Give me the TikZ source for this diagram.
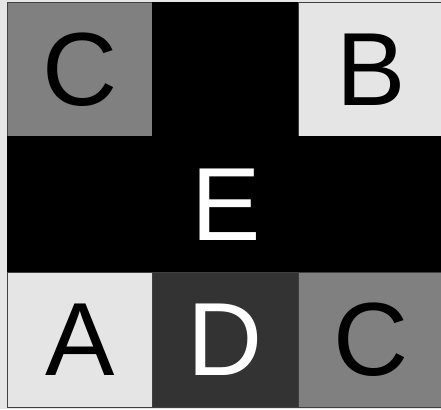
\documentclass[tikz,border=0pt]{standalone}
\usepackage{fontspec}
\setmainfont{Liberation Sans}
\usepackage{tikz}
\usetikzlibrary{positioning}

\begin{document}
\begin{tikzpicture}[
    x=1pt, y=1pt,
    cell/.style={draw=black!75, line width=1pt, inner sep=0pt, outer sep=0pt, minimum width=146pt, minimum height=135pt, font=\fontsize{104}{104}\selectfont},
    light/.style={cell, fill=gray!20, text=black},
    mid/.style={cell, fill=gray, text=black},
    dark/.style={cell, fill=black!80, text=white},
    full/.style={cell, draw=black, fill=black, text=white}
]
    \useasboundingbox[fill=gray!20] (0,0) rectangle (441,409);
    % top row
    \node[mid, minimum width=144.5pt] (c1) at (79.75,339.25) {C};
    \node[full, minimum height=134.5pt] (top) at (225,339.25) {};
    \node[light, minimum height=134.5pt] (b) at (371,339.25) {B};
    % middle row
    \node[full, minimum width=436.5pt, minimum height=136pt] (e) at (225.75,204) {E};
    % bottom row
    \node[light, minimum width=144.5pt, minimum height=134pt] (a) at (79.75,69) {A};
    \node[dark, minimum height=134pt] (d) at (225,69) {D};
    \node[mid, minimum height=134pt] (c2) at (371,69) {C};
\end{tikzpicture}
\end{document}
